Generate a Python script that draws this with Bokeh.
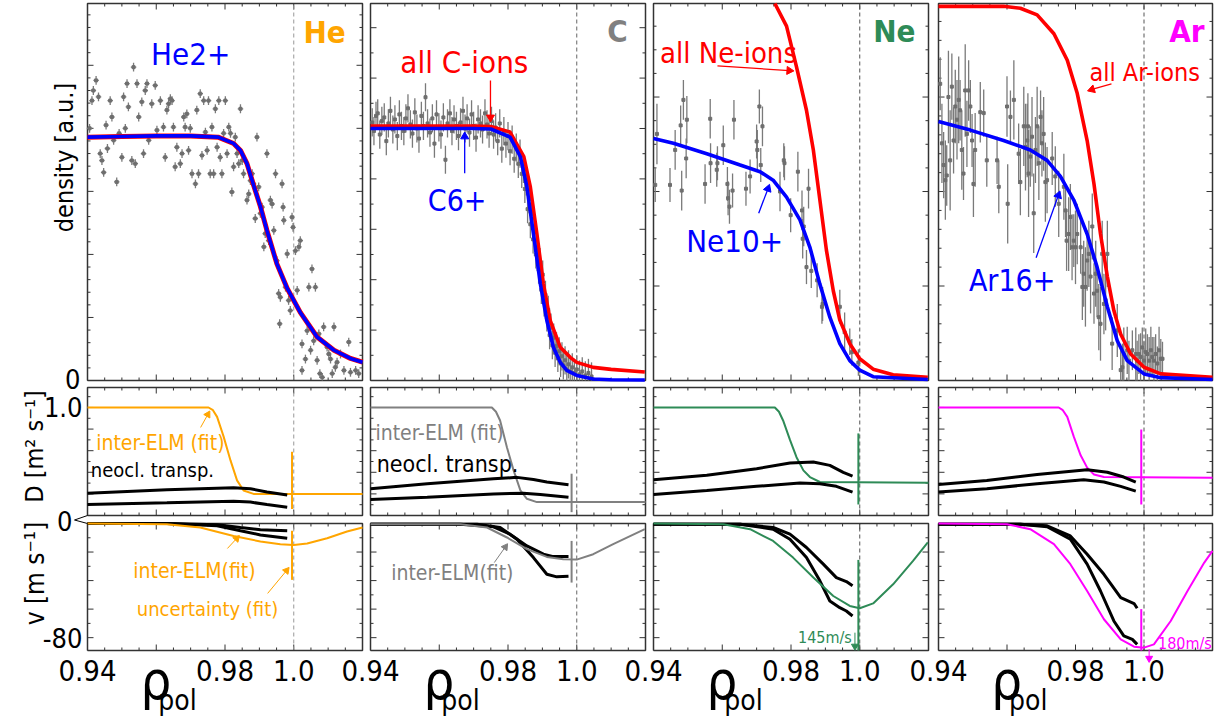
import numpy as np
from bokeh.plotting import figure
from bokeh.models import Range1d
from bokeh.embed import file_html
from bokeh.resources import INLINE
from bokeh.core.properties import value

# ======================= DATA =======================
# --- He column, top: measured densities (a.u.) and fit
rho_he = [0.9406,0.9413,0.9417,0.9425,0.9432,0.9437,0.9442,0.9447,0.9454,0.9458,
          0.9466,0.9471,0.9476,0.9485,0.9492,0.9500,0.9505,0.9510,0.9515,0.9519,
          0.9529,0.9534,0.9539,0.9544,0.9549,0.9558,0.9563,0.9568,0.9573,0.9578,
          0.9587,0.9597,0.9602,0.9612,0.9621,0.9626,0.9631,0.9636,0.9641,0.9646,
          0.9650,0.9655,0.9660,0.9670,0.9675,0.9680,0.9684,0.9689,0.9694,0.9699,
          0.9704,0.9714,0.9718,0.9723,0.9728,0.9733,0.9738,0.9743,0.9748,0.9752,
          0.9757,0.9762,0.9767,0.9772,0.9777,0.9782,0.9786,0.9791,0.9796,0.9801,
          0.9806,0.9811,0.9816,0.9820,0.9825,0.9830,0.9835,0.9840,0.9845,0.9850,
          0.9854,0.9864,0.9869,0.9874,0.9879,0.9883,0.9888,0.9893,0.9898,0.9903,
          0.9908,0.9913,0.9917,0.9922,0.9927,0.9932,0.9937,0.9942,0.9947,0.9951,
          0.9956,0.9959,0.9961,0.9966,0.9969,0.9971,0.9976,0.9981,0.9985,0.9990,
          0.9995,0.9998,1.0005,1.0010,1.0015,1.0019,1.0024,1.0024,1.0034,1.0039,
          1.0044,1.0049,1.0053,1.0058,1.0063,1.0068,1.0073,1.0076,1.0083,1.0087,
          1.0097,1.0102,1.0107,1.0112,1.0117,1.0121,1.0126,1.0136,1.0146,1.0160,
          1.0165,1.0180,1.0189]
dens_he = [4.0,4.44,4.6,4.76,4.5,3.6,3.49,3.3,4.05,3.68,
           4.44,4.18,3.81,3.15,3.92,3.54,4.5,4.0,4.71,4.34,
           3.49,4.97,3.44,4.71,4.18,4.42,3.6,4.6,4.71,3.81,
           4.39,4.68,3.97,4.44,4.02,3.54,4.29,4.39,4.47,4.44,
           4.02,3.39,3.7,3.44,3.6,4.18,4.02,4.23,3.65,4.0,
           3.28,3.12,4.29,3.28,4.55,3.57,4.44,3.94,3.65,4.44,
           3.28,4.02,3.28,4.31,3.7,4.44,3.54,3.28,3.92,4.44,
           3.6,4.02,3.92,2.99,3.39,3.86,3.6,3.44,4.31,3.49,
           3.28,2.86,2.96,3.17,3.28,3.12,2.57,3.86,3.07,2.65,
           2.75,2.12,2.33,3.6,2.22,2.86,2.8,2.38,3.28,1.9,
           1.38,0.9,1.32,3.12,2.75,2.54,1.48,2.01,1.27,1.11,
           2.59,2.43,2.06,1.43,2.12,2.22,0.58,0.16,0.34,0.79,
           1.48,0.48,1.77,0.63,1.48,0.32,0.74,0.11,0.05,0.85,
           0.53,0.42,0.34,0.11,0.85,0.21,0.29,0.42,0.16,0.61,
           0.13,0.16,0.11]
he_yerr = 0.07
he_xerr = 0.0008
rho_he_fit = [0.94,0.95,0.96,0.97,0.978,0.9825,0.9845,0.9864,0.9883,0.9903,0.9922,0.9951,0.9981,1.0,1.0019,1.0068,1.0117,1.0165,1.02]
he_fit =     [3.86,3.87,3.88,3.88,3.86,3.76,3.65,3.44,3.10,2.76,2.38,1.85,1.46,1.27,1.08,0.69,0.48,0.35,0.29]

# --- C column, top
rho_c = [0.9405,0.9410,0.9416,0.9421,0.9427,0.9433,0.9440,0.9446,0.9452,0.9458,0.9465,0.9471,0.9478,0.9484,0.9490,
         0.9497,0.9503,0.9509,0.9516,0.9522,0.9529,0.9535,0.9541,0.9548,0.9554,0.9560,0.9566,0.9573,0.9580,0.9586,
         0.9592,0.9599,0.9605,0.9612,0.9618,0.9624,0.9631,0.9637,0.9643,0.9650,0.9656,0.9662,0.9669,0.9675,0.9681,
         0.9688,0.9694,0.9700,0.9707,0.9713,0.9720,0.9726,0.9733,0.9739,0.9745,
         0.9752,0.9758,0.9764,0.9770,0.9776,0.9782,0.9788,0.9794,0.9800,0.9806,0.9812,0.9818,0.9824,0.9830,0.9835,0.9840,
         0.9845,0.9849,0.9853,0.9857,0.9861,0.9865,0.9869,0.9873,0.9877,0.9881,0.9885,0.9889,0.9893,0.9897,0.9901,0.9905,0.9909,0.9913,0.9917,
         0.9921,0.9925,0.9929,0.9933,0.9937,0.9941,0.9945,0.9949,0.9953,0.9957,0.9961,0.9966,0.9971,0.9976,0.9981,0.9987,0.9993,1.0000,1.0008,1.0016,1.0025,1.0034,1.0043]
dens_c = [5.12,4.95,5.25,5.30,4.88,5.15,5.22,4.75,5.10,5.35,4.98,5.18,4.85,5.28,5.05,
          4.95,5.20,5.40,5.08,4.90,5.32,5.00,4.80,5.25,5.05,5.62,5.10,4.92,5.20,4.70,
          5.28,5.02,4.88,5.22,4.38,5.10,5.30,4.95,5.18,5.05,4.85,5.12,5.35,5.00,5.20,
          4.92,5.28,5.05,4.82,5.18,5.10,4.98,5.30,5.08,4.90,
          5.15,4.88,5.02,4.75,5.10,4.60,4.95,4.70,4.85,4.55,4.78,4.40,4.62,4.30,4.50,4.10,
          4.20,3.80,3.95,3.40,3.60,3.10,3.30,2.80,3.00,2.50,2.65,2.20,2.35,1.80,2.10,1.55,1.70,1.25,1.40,
          0.90,1.05,0.70,0.85,0.55,0.68,0.45,0.58,0.35,0.48,0.30,0.40,0.22,0.32,0.18,0.26,0.15,0.22,0.12,0.18,0.10,0.15,0.08]
c_err = 0.28
rho_c6 = [0.94,0.95,0.96,0.97,0.975,0.9806,0.9836,0.9855,0.9874,0.9894,0.9913,0.9932,0.9952,0.9971,1.0,1.0048,1.01,1.0198]
c6_fit = [5.0,5.0,5.0,5.0,4.99,4.83,4.44,3.84,2.91,1.92,1.19,0.66,0.36,0.20,0.10,0.03,0.015,0.01]
rho_call = [0.94,0.95,0.96,0.97,0.975,0.9806,0.9846,0.9865,0.9884,0.9903,0.9923,0.9952,0.9981,1.0,1.0048,1.01,1.0198]
call_fit = [5.05,5.05,5.05,5.05,5.04,4.93,4.44,3.84,2.91,1.92,1.19,0.66,0.46,0.36,0.26,0.22,0.17]

# --- Ne column, top
rho_ne = [0.9405,0.9410,0.9448,0.9463,0.9479,0.9482,0.9487,0.9495,0.9497,0.9550,0.9565,0.9566,0.9584,0.9586,0.9603,
          0.9615,0.9617,0.9621,0.9630,0.9634,0.9669,0.9681,0.9700,0.9702,0.9708,0.9712,0.9717,0.9768,0.9779,0.9781,
          0.9799,0.9820,0.9832,0.9834,0.9837,0.9845,0.9851,0.9859,0.9876,0.9890,0.9892,0.9942,0.9956,0.9971,0.9977,0.9996]
dens_ne = [2.07,2.61,2.07,2.44,2.70,2.01,2.97,2.35,2.76,2.08,2.77,2.30,2.23,2.30,2.49,
           2.08,1.93,1.84,2.01,2.76,2.03,2.16,2.53,2.44,2.90,2.28,2.69,2.00,2.33,2.30,
           1.75,2.21,1.80,1.50,1.63,1.20,2.03,1.16,1.06,0.78,0.81,0.78,0.51,0.41,0.30,0.19]
err_ne = [0.18,0.32,0.18,0.21,0.21,0.21,0.21,0.21,0.25,0.21,0.21,0.21,0.18,0.18,0.21,
          0.18,0.18,0.18,0.18,0.21,0.18,0.18,0.18,0.21,0.18,0.18,0.21,0.21,0.18,0.18,
          0.18,0.21,0.21,0.21,0.21,0.18,0.21,0.18,0.18,0.18,0.18,0.18,0.21,0.14,0.14,0.14]
rho_ne10 = [0.94,0.9458,0.9555,0.9652,0.971,0.9748,0.9787,0.9826,0.9855,0.9884,0.9913,0.9942,0.9971,1.0,1.0039,1.0198]
ne10_fit = [2.56,2.51,2.40,2.28,2.21,2.12,1.94,1.70,1.41,1.02,0.67,0.39,0.21,0.11,0.04,0.01]
rho_neall = [0.9753,0.9787,0.9816,0.9845,0.9865,0.9884,0.9903,0.9923,0.9942,0.9971,1.0,1.0039,1.0097,1.0198]
neall_fit = [3.99,3.75,3.32,2.86,2.44,1.91,1.38,0.95,0.64,0.39,0.23,0.12,0.06,0.035]

# --- Ar column, top
rho_ar = [0.9405,0.9410,0.9415,0.9420,0.9424,0.9429,0.9434,0.9439,0.9444,0.9449,0.9454,0.9459,0.9463,0.9468,0.9473,0.9478,0.9483,0.9488,0.9493,0.9498,0.9502,0.9507,
          0.9522,0.9532,0.9541,0.9571,0.9576,0.9600,0.9602,0.9610,0.9620,
          0.9634,0.9639,0.9649,0.9654,0.9659,0.9661,0.9663,0.9668,0.9673,0.9678,0.9683,0.9688,0.9693,0.9698,0.9702,0.9707,0.9712,0.9717,
          0.9732,0.9741,0.9751,0.9766,0.9771,0.9774,0.9780,0.9785,0.9790,0.9795,0.9800,0.9805,
          0.9815,0.9820,0.9824,0.9829,0.9834,0.9839,0.9844,0.9849,0.9854,0.9859,0.9863,0.9868,0.9873,0.9878,0.9883,0.9888,0.9893,
          0.9907,0.9922,0.9932,0.9937,0.9941,0.9951,0.9956,0.9966,0.9976,0.9980,
          0.9985,0.9990,0.9995,1.0000,1.0005,1.0010,1.0015,1.0020,1.0024,1.0029,1.0034,1.0039,1.0044,1.0049,1.0054]
dens_ar = [3.14,2.51,2.28,2.12,2.17,3.00,2.33,3.11,2.54,2.90,2.76,2.97,2.86,2.44,2.19,3.07,2.61,3.07,2.90,2.54,2.08,2.44,
           2.84,2.83,2.33,2.33,2.05,2.90,1.87,2.79,2.97,
           2.40,2.10,2.69,2.47,2.54,2.69,2.19,2.37,2.58,1.77,2.44,2.69,2.30,2.79,2.51,2.61,2.10,2.12,
           2.35,2.16,1.87,2.05,1.80,1.48,1.55,1.73,1.41,1.48,1.41,1.55,
           1.41,0.99,1.13,0.99,1.27,1.34,1.10,1.63,0.92,1.13,0.95,0.67,0.60,1.34,0.81,0.85,1.34,
           0.39,0.53,0.11,0.14,0.28,0.32,0.21,0.32,0.28,0.21,
           0.28,0.25,0.35,0.21,0.30,0.28,0.21,0.32,0.25,0.21,0.28,0.18,0.32,0.23,0.23]
err_ar = [0.28,0.42,0.35,0.42,0.32,0.49,0.53,0.35,0.35,0.39,0.42,0.46,0.32,0.42,0.28,0.49,0.35,0.32,0.28,0.28,0.35,0.39,
          0.32,0.25,0.28,0.25,0.28,0.32,0.42,0.28,0.42,
          0.32,0.35,0.42,0.46,0.39,0.35,0.46,0.32,0.42,0.42,0.35,0.42,0.39,0.28,0.35,0.39,0.42,0.35,
          0.28,0.32,0.35,0.35,0.28,0.32,0.39,0.35,0.35,0.28,0.39,0.32,
          0.28,0.35,0.35,0.42,0.32,0.35,0.39,0.35,0.32,0.35,0.28,0.35,0.39,0.35,0.32,0.32,0.35,
          0.28,0.28,0.21,0.25,0.28,0.25,0.21,0.21,0.28,0.21,
          0.21,0.25,0.21,0.21,0.25,0.21,0.25,0.25,0.21,0.25,0.21,0.18,0.25,0.21,0.18]
rho_ar16 = [0.94,0.9493,0.959,0.9668,0.9717,0.9756,0.9795,0.9834,0.9863,0.9893,0.9922,0.9951,1.0,1.0049,1.02]
ar16_fit = [2.74,2.65,2.54,2.44,2.33,2.16,1.91,1.55,1.20,0.78,0.42,0.21,0.07,0.03,0.01]
rho_arall = [0.94,0.959,0.9639,0.9688,0.9737,0.9776,0.9805,0.9834,0.9854,0.9873,0.9893,0.9912,0.9932,0.9961,1.0,1.0049,1.02]
arall_fit = [3.96,3.96,3.94,3.87,3.67,3.39,3.04,2.54,2.08,1.55,1.10,0.74,0.49,0.28,0.14,0.07,0.035]

# --- Diffusion D [m^2/s]: inter-ELM fit and neoclassical band (upper/lower)
rho_D_he = [0.94,0.9752,0.9765,0.9777,0.9796,0.9816,0.9835,0.9854,0.9883,1.02]
D_he =     [1.0,1.0,0.975,0.913,0.73,0.51,0.325,0.232,0.2,0.2]
rho_D_c = [0.94,0.9753,0.9765,0.9777,0.9797,0.9816,0.9836,0.9855,0.9884,1.02]
D_c =     [1.0,1.0,0.96,0.88,0.63,0.42,0.232,0.155,0.124,0.124]
rho_D_ne = [0.94,0.9753,0.9765,0.9777,0.9797,0.9816,0.9836,0.9855,0.9884,1.02]
D_ne =     [1.0,1.0,0.96,0.88,0.70,0.54,0.418,0.356,0.31,0.303]
rho_D_ar = [0.94,0.9751,0.9763,0.9776,0.9795,0.9815,0.9834,0.9854,0.9883,1.02]
D_ar =     [1.0,1.0,0.975,0.913,0.73,0.557,0.443,0.38,0.356,0.35]

rho_Dn_he_up = [0.94,0.9631,0.9825,0.9874,0.9922,0.9981]
Dn_he_up =     [0.207,0.238,0.257,0.248,0.217,0.19]
rho_Dn_he_lo = [0.94,0.9631,0.9825,0.9874,0.9922,0.9981]
Dn_he_lo =     [0.102,0.118,0.133,0.124,0.102,0.077]
rho_Dn_c_up = [0.94,0.9565,0.9758,0.9826,0.9874,0.9913,0.9976]
Dn_c_up =     [0.248,0.294,0.34,0.353,0.334,0.31,0.285]
rho_Dn_c_lo = [0.94,0.9565,0.9758,0.9845,0.9894,0.9976]
Dn_c_lo =     [0.149,0.17,0.2,0.207,0.195,0.17]
rho_Dn_ne_up = [0.94,0.9555,0.97,0.9797,0.9865,0.9913,0.9952,0.9979]
Dn_ne_up =     [0.331,0.372,0.433,0.486,0.495,0.464,0.40,0.365]
rho_Dn_ne_lo = [0.94,0.9555,0.97,0.9826,0.9884,0.9932,0.9979]
Dn_ne_lo =     [0.195,0.232,0.27,0.30,0.294,0.27,0.217]
rho_Dn_ar_up = [0.94,0.9541,0.9688,0.9834,0.9893,0.9941,0.9976]
Dn_ar_up =     [0.288,0.325,0.38,0.424,0.40,0.356,0.31]
rho_Dn_ar_lo = [0.94,0.9541,0.9688,0.9824,0.9883,0.9932,0.9976]
Dn_ar_lo =     [0.217,0.248,0.294,0.331,0.31,0.27,0.226]

# --- Convection v [m/s]: inter-ELM fit and neoclassical band
rho_v_he = [0.94,0.9631,0.9728,0.9825,0.9903,0.9961,1.0,1.0039,1.0097,1.0155,1.02]
v_he =     [0.0,-0.5,-2.8,-8.7,-12.6,-14.5,-15.0,-14.0,-10.3,-5.6,-2.8]
rho_v_c = [0.94,0.9661,0.9739,0.9797,0.9855,0.9913,0.9961,1.0,1.0048,1.0106,1.0198]
v_c =     [-0.5,-0.5,-2.8,-9.8,-18.0,-23.4,-25.0,-25.3,-21.5,-14.5,-4.0]
rho_v_ne = [0.94,0.9603,0.9681,0.9748,0.9806,0.9865,0.9923,0.9971,1.0,1.0039,1.0097,1.0155,1.0198]
v_ne =     [0.0,-0.5,-4.0,-12.2,-23.9,-37.9,-50.8,-57.8,-59.4,-56.0,-42.6,-26.2,-13.3]
rho_v_ar = [0.94,0.96,0.9668,0.9737,0.9785,0.9834,0.9883,0.9932,0.9971,1.0,1.0029,1.0078,1.0127,1.0176,1.02]
v_ar =     [0.0,-0.5,-4.0,-14.5,-28.5,-47.3,-67.1,-81.2,-86.3,-87.0,-84.7,-68.3,-47.3,-27.4,-19.2]

rho_vn_he_up = [0.94,0.9631,0.9777,0.9845,0.9903,0.9981]
vn_he_up =     [0.0,0.0,-0.9,-2.8,-4.4,-5.1]
rho_vn_he_lo = [0.94,0.9631,0.9777,0.9845,0.9903,0.9981]
vn_he_lo =     [0.0,0.0,-1.6,-5.1,-8.0,-10.3]
rho_vn_c_up = [0.94,0.9661,0.9758,0.9806,0.9855,0.9903,0.9932,0.9976]
vn_c_up =     [-0.5,-0.5,-2.3,-7.5,-15.7,-21.5,-23.2,-23.2]
rho_vn_c_lo = [0.94,0.971,0.9777,0.9826,0.9874,0.9913,0.9942,0.9976]
vn_c_lo =     [-0.5,-0.5,-2.8,-11.0,-23.9,-35.6,-37.4,-37.0]
rho_vn_ne_up = [0.94,0.9652,0.9748,0.9797,0.9845,0.9894,0.9932,0.9961,0.9979]
vn_ne_up =     [-0.5,-0.5,-2.8,-7.5,-16.8,-28.5,-37.9,-40.7,-43.7]
rho_vn_ne_lo = [0.94,0.9652,0.9748,0.9797,0.9845,0.9884,0.9913,0.9942,0.9961,0.9979]
vn_ne_lo =     [-0.5,-0.5,-4.0,-11.0,-23.9,-40.2,-54.3,-59.0,-61.3,-64.8]
rho_vn_ar_up = [0.94,0.9639,0.9717,0.9785,0.9834,0.9883,0.9932,0.9971,0.998]
vn_ar_up =     [-0.5,-0.5,-1.6,-8.7,-21.5,-35.6,-51.9,-56.1,-59.4]
rho_vn_ar_lo = [0.94,0.9639,0.9717,0.9785,0.9834,0.9873,0.9912,0.9941,0.9966,0.998]
vn_ar_lo =     [-0.5,-0.5,-2.3,-11.0,-28.5,-47.3,-68.3,-78.8,-81.2,-84.7]

# --- uncertainty bars of the fit at the separatrix
unc_rho = [0.9995, 0.9985, 0.9996, 0.9992]
unc_D_lo = [0.06, 0.031, 0.102, 0.102]
unc_D_hi = [0.59, 0.387, 0.76, 0.796]
unc_v_lo = [-39.5, -41.4, -89.0, -89.0]
unc_v_hi = [-5.1, -12.2, -25.5, -60.0]

elements = ["He", "C", "Ne", "Ar"]
x_tick_labels = ["0.94", "0.98", "1.0"]
x_tick_values = [0.94, 0.98, 1.0]

# ======================= STYLE / LAYOUT =======================
F = "Liberation Sans Narrow, DejaVu Sans Condensed, Liberation Sans, Arial, sans-serif"
ORANGE, GRAY, GREEN, MAGENTA = "#FFA500", "#808080", "#2E8B57", "#FF00FF"
EL_COL = [ORANGE, GRAY, GREEN, MAGENTA]
DATA_COL = "#6e6e6e"
FRAME_COL = "#333333"

W, H = 1220, 727
p = figure(width=W, height=H, x_range=Range1d(0, W), y_range=Range1d(H, 0),
           x_axis_location=None, y_axis_location=None, toolbar_location=None,
           output_backend="svg", min_border=0, outline_line_color=None)
p.grid.visible = False

COLS = [(87, 362), (370, 645), (653, 928), (938, 1212)]
ROWS = [(380, 3), (515, 387), (650, 523)]
XR = (0.94, 1.02)
YR_TOP = [(0, 5.98), (0, 7.48), (0, 3.99), (0, 3.99)]
YMIN_TOP = [0.2, 0.5, 0.25, 0.2]
YR_D = (0, 1.185)
YR_V = (-89, 0)


def ticks(lo, hi, step):
    n0 = int(np.ceil(lo / step - 1e-9)); n1 = int(np.floor(hi / step + 1e-9))
    return [round(k * step, 6) for k in range(n0, n1 + 1)]


def make_sub(ci, ri, yr):
    return p.subplot(x_source=Range1d(*XR), y_source=Range1d(*yr),
                     x_target=Range1d(*COLS[ci]), y_target=Range1d(*ROWS[ri]))


def draw_frame(sub, ci, ri, yr, ymaj, ymin, dash_col):
    x0, x1 = XR; y0, y1 = yr
    wpx = COLS[ci][1] - COLS[ci][0]; hpx = ROWS[ri][0] - ROWS[ri][1]
    kx = (x1 - x0) / wpx; ky = (y1 - y0) / hpx
    a, b, c, d = [], [], [], []
    majx = ticks(x0, x1, 0.02)
    minx = [t for t in ticks(x0, x1, 0.005) if all(abs(t - m) > 1e-6 for m in majx)]
    for t in majx + minx:
        L = 6 if t in majx else 3
        a += [t, t]; b += [y0, y1]; c += [t, t]; d += [y0 + L * ky, y1 - L * ky]
    majy = ticks(y0, y1, ymaj)
    miny = [t for t in ticks(y0, y1, ymin) if all(abs(t - m) > 1e-6 for m in majy)]
    for t in majy + miny:
        L = 6 if t in majy else 3
        a += [x0, x1]; b += [t, t]; c += [x0 + L * kx, x1 - L * kx]; d += [t, t]
    sub.segment(x0=a, y0=b, x1=c, y1=d, line_color=FRAME_COL, line_width=1)
    sub.line([1.0, 1.0], [y0, y1], line_color=dash_col, line_dash="4 3", line_width=1)
    sub.line([x0, x1, x1, x0, x0], [y0, y0, y1, y1, y0], line_color=FRAME_COL, line_width=1.5)


def txt(target, x, y, s, size, color="black", align="center", baseline="middle",
        bold=False, angle=0.0, xo=0, yo=0, font=F):
    target.text(x=[x], y=[y], text=[s], text_font=value(font), text_font_size=f"{size}px",
                text_color=color, text_align=align, text_baseline=baseline,
                text_font_style="bold" if bold else "normal", angle=angle,
                x_offset=xo, y_offset=yo)


def arrow(sub, xs, ys, xe, ye, color, rot, w=1.3, size=8):
    sub.segment(x0=[xs], y0=[ys], x1=[xe], y1=[ye], line_color=color, line_width=w)
    sub.scatter(x=[xe], y=[ye], marker="triangle", size=size, angle=rot,
                fill_color=color, line_color=color)


def errbars(sub, xs, ys, err, yr, xerr=None):
    lo = np.clip(np.array(ys) - np.array(err), yr[0], yr[1])
    hi = np.clip(np.array(ys) + np.array(err), yr[0], yr[1])
    sub.segment(x0=xs, y0=lo, x1=xs, y1=hi, line_color="#7a7a7a", line_width=1.3)
    if xerr is not None:
        sub.segment(x0=np.array(xs) - xerr, y0=ys, x1=np.array(xs) + xerr, y1=ys,
                    line_color="#7a7a7a", line_width=1.3)
    sub.scatter(x=xs, y=ys, marker="square", size=3, fill_color=DATA_COL, line_color=DATA_COL)


dash_cols = ["#999999", "#666666", "#555555", "#555555"]

# ======================= TOP ROW: densities =======================
tops = [make_sub(ci, 0, YR_TOP[ci]) for ci in range(4)]
for ci, s in enumerate(tops):
    draw_frame(s, ci, 0, YR_TOP[ci], 1.0, YMIN_TOP[ci], dash_cols[ci])

s = tops[0]
errbars(s, rho_he, dens_he, [he_yerr] * len(rho_he), YR_TOP[0], xerr=he_xerr)
s.line(rho_he_fit, he_fit, line_color="red", line_width=5)
s.line(rho_he_fit, he_fit, line_color="blue", line_width=3.6)
txt(s, 0.970, 5.18, "He2+", 31, "blue")

s = tops[1]
errbars(s, rho_c, dens_c, [c_err] * len(rho_c), YR_TOP[1])
s.line(rho_call, call_fit, line_color="red", line_width=3.6)
s.line(rho_c6, c6_fit, line_color="blue", line_width=3.6)
txt(s, 0.9673, 6.31, "all C-ions", 31, "red")
txt(s, 0.9652, 3.57, "C6+", 30, "blue")
arrow(s, 0.9749, 5.95, 0.9749, 5.22, "red", np.pi)
arrow(s, 0.9674, 4.11, 0.9674, 4.84, "blue", 0.0)

s = tops[2]
errbars(s, rho_ne, dens_ne, err_ne, YR_TOP[2])
s.line(rho_neall, neall_fit, line_color="red", line_width=3.6)
s.line(rho_ne10, ne10_fit, line_color="blue", line_width=3.6)
txt(s, 0.9618, 3.47, "all Ne-ions", 29, "red")
txt(s, 0.9636, 1.48, "Ne10+", 31, "blue")
arrow(s, 0.9586, 3.33, 0.9795, 3.28, "red", -1.64)
arrow(s, 0.9706, 1.77, 0.9733, 2.03, "blue", -0.35)

s = tops[3]
errbars(s, rho_ar, dens_ar, err_ar, YR_TOP[3])
s.line(rho_arall, arall_fit, line_color="red", line_width=3.6)
s.line(rho_ar16, ar16_fit, line_color="blue", line_width=3.6)
txt(s, 1.0002, 3.26, "all Ar-ions", 25, "red")
txt(s, 0.9615, 1.06, "Ar16+", 30, "blue")
arrow(s, 0.9905, 3.14, 0.9848, 3.08, "red", 1.88)
arrow(s, 0.9685, 1.30, 0.9750, 1.96, "blue", -0.34)

el_pos = [(1.0151, 5.53), (1.0148, 6.94), (1.0162, 3.70), (1.0177, 3.70)]
for ci in range(4):
    txt(tops[ci], el_pos[ci][0], el_pos[ci][1], elements[ci], 31, EL_COL[ci],
        align="right", bold=True)

txt(tops[0], 0.94, 0.0, "0", 27, align="right", xo=-7, yo=-2)

# ======================= MIDDLE ROW: D =======================
mids = [make_sub(ci, 1, YR_D) for ci in range(4)]
D_fit = [(rho_D_he, D_he), (rho_D_c, D_c), (rho_D_ne, D_ne), (rho_D_ar, D_ar)]
Dn_up = [(rho_Dn_he_up, Dn_he_up), (rho_Dn_c_up, Dn_c_up), (rho_Dn_ne_up, Dn_ne_up), (rho_Dn_ar_up, Dn_ar_up)]
Dn_lo = [(rho_Dn_he_lo, Dn_he_lo), (rho_Dn_c_lo, Dn_c_lo), (rho_Dn_ne_lo, Dn_ne_lo), (rho_Dn_ar_lo, Dn_ar_lo)]
for ci, s in enumerate(mids):
    draw_frame(s, ci, 1, YR_D, 0.2, 0.1, dash_cols[ci])
    s.line(*D_fit[ci], line_color=EL_COL[ci], line_width=2)
    s.line(*Dn_up[ci], line_color="black", line_width=3)
    s.line(*Dn_lo[ci], line_color="black", line_width=3)
    s.line([unc_rho[ci]] * 2, [unc_D_lo[ci], unc_D_hi[ci]], line_color=EL_COL[ci], line_width=2)

txt(mids[0], 0.9612, 0.667, "inter-ELM (fit)", 21, ORANGE)
txt(mids[0], 0.9589, 0.417, "neocl. transp.", 20, "black")
arrow(mids[0], 0.9729, 0.815, 0.9750, 0.935, ORANGE, -0.52, w=1, size=7)
txt(mids[1], 0.9601, 0.76, "inter-ELM (fit)", 21, GRAY)
txt(mids[1], 0.9624, 0.48, "neocl. transp.", 23, "black")
txt(mids[0], 0.94, 1.0, "1.0", 27, align="right", xo=-5)
txt(mids[0], 0.94, 0.0, "0", 27, align="right", xo=-15, yo=5)

# ======================= BOTTOM ROW: v =======================
bots = [make_sub(ci, 2, YR_V) for ci in range(4)]
v_fit = [(rho_v_he, v_he), (rho_v_c, v_c), (rho_v_ne, v_ne), (rho_v_ar, v_ar)]
vn_up = [(rho_vn_he_up, vn_he_up), (rho_vn_c_up, vn_c_up), (rho_vn_ne_up, vn_ne_up), (rho_vn_ar_up, vn_ar_up)]
vn_lo = [(rho_vn_he_lo, vn_he_lo), (rho_vn_c_lo, vn_c_lo), (rho_vn_ne_lo, vn_ne_lo), (rho_vn_ar_lo, vn_ar_lo)]
for ci, s in enumerate(bots):
    draw_frame(s, ci, 2, YR_V, 20, 10, dash_cols[ci])
    s.line(*vn_up[ci], line_color="black", line_width=3)
    s.line(*vn_lo[ci], line_color="black", line_width=3)
    s.line(*v_fit[ci], line_color=EL_COL[ci], line_width=2)
    s.line([unc_rho[ci]] * 2, [unc_v_lo[ci], unc_v_hi[ci]], line_color=EL_COL[ci], line_width=2)
    for tv, tl in zip(x_tick_values, x_tick_labels):
        txt(s, tv, -89, tl, 29, yo=20)
    txt(s, 0.9554, -89, "\u03c1", 54, align="left", yo=30)
    txt(s, 0.9606, -89, "pol", 28, align="left", yo=50)

txt(bots[0], 0.9711, -33, "inter-ELM(fit)", 21, ORANGE)
txt(bots[0], 0.9749, -59.6, "uncertainty (fit)", 20, ORANGE)
arrow(bots[0], 0.9807, -17.5, 0.9834, -10.5, ORANGE, -0.73, w=1, size=7)
arrow(bots[0], 0.9924, -49.0, 0.9979, -33.0, ORANGE, -0.68, w=1, size=7)
txt(bots[1], 0.9638, -35, "inter-ELM(fit)", 21, GRAY)
arrow(bots[1], 0.9760, -27.4, 0.9792, -16.5, GRAY, -0.61, w=1, size=7)
txt(bots[2], 0.9977, -80, "145m/s", 16, GREEN, align="right")
arrow(bots[2], 0.9986, -76.5, 0.9986, -86.0, GREEN, np.pi, w=1, size=7)
txt(bots[3], 1.0198, -84, "180m/s", 16, MAGENTA, align="right")
arrow(bots[3], 1.0015, -88.0, 1.0015, -94.5, MAGENTA, np.pi, w=1, size=7)
txt(bots[0], 0.94, -80, "-80", 27, align="right", xo=-5)

# ======================= axis titles (page level) =======================
txt(p, 64, 157, "density [a.u.]", 25, angle=np.pi / 2)
txt(p, 34, 446, "D [m\u00b2 s\u207b\u00b9]", 25, angle=np.pi / 2)
txt(p, 34, 573, "v [m s\u207b\u00b9]", 26, angle=np.pi / 2)
p.line([87, 74, 87], [515, 519.5, 523], line_color="black", line_width=1)

open("out.html", "w").write(file_html(p, INLINE))
